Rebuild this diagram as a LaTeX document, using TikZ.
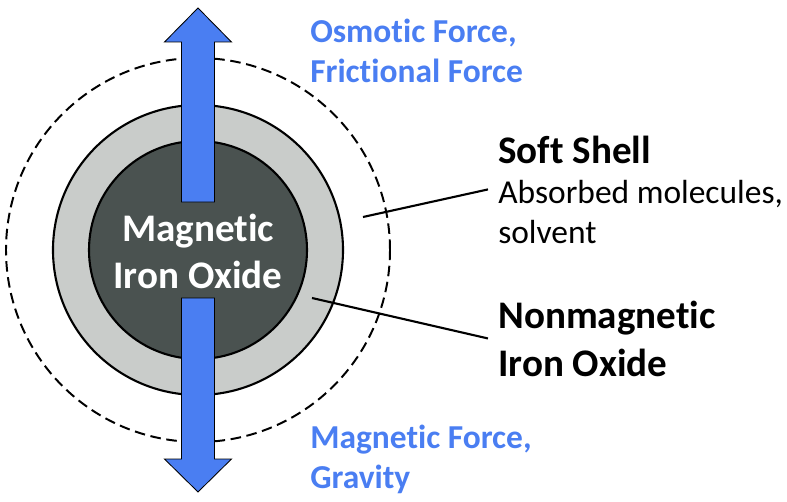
\documentclass[tikz,border=0pt]{standalone}
\usepackage{fontspec}
\setmainfont{Carlito}[Ligatures=NoCommon]
\definecolor{forceblue}{RGB}{74,126,242}
\definecolor{coregray}{RGB}{74,82,80}
\definecolor{shellgray}{RGB}{201,204,202}
\begin{document}
\begin{tikzpicture}[
  ring/.style={draw, line width=1.5pt},
  force/.style={draw, line width=0.6pt, fill=forceblue},
  forcelabel/.style={anchor=base west, align=left, inner sep=0pt, text=forceblue,
                     font=\bfseries\fontsize{23.8}{28.45}\selectfont},
  partlabel/.style={anchor=base west, align=left, inner xsep=0.25cm, inner ysep=0pt},
  leader/.style={line width=1.5pt}
]
  \useasboundingbox (-4.95,-6.3) rectangle (14.725,6.25);

  % Particle
  \draw[line width=1.4pt, dash pattern=on 7.5pt off 4pt] (0,0) circle (4.8);
  \draw[ring, fill=shellgray] (0,0) circle (3.625);
  \draw[ring, fill=coregray] (0,0) circle (2.725);
  \node[align=center, text=white, font=\bfseries\fontsize{27.8}{33.4}\selectfont, anchor=base]
    (core) at (0,-0.95) {Magnetic\\Iron Oxide};

  % Forces
  \draw[force] (-0.4125,1.2) -- (-0.4125,5.2) -- (-0.8375,5.2) -- (0,6.05)
    -- (0.8375,5.2) -- (0.4125,5.2) -- (0.4125,1.2) -- cycle;
  \draw[force] (-0.4125,-1.2) -- (-0.4125,-5.225) -- (-0.8375,-5.225) -- (0,-6.05)
    -- (0.8375,-5.225) -- (0.4125,-5.225) -- (0.4125,-1.2) -- cycle;
  \node[forcelabel] (osmotic) at (2.8,4.2) {Osmotic Force,\\Frictional Force};
  \node[forcelabel] (magforce) at (2.8,-5.95) {Magnetic Force,\\Gravity};

  % Labels
  \node[partlabel, font=\fontsize{23.8}{28.45}\selectfont] (soft) at (7.25,0.175)
    {{\bfseries\fontsize{27.8}{28.45}\selectfont Soft Shell}\\Absorbed molecules,\\solvent};
  \node[partlabel, font=\bfseries\fontsize{27.8}{34.1}\selectfont] (nonmag) at (7.25,-3.15)
    {Nonmagnetic\\Iron Oxide};
  \coordinate (softpt) at (4.125,0.825);
  \coordinate (nonmagpt) at (2.85,-1.2);
  \draw[leader] (softpt) -- (soft.west);
  \draw[leader] (nonmagpt) -- (nonmag.west);
\end{tikzpicture}
\end{document}
